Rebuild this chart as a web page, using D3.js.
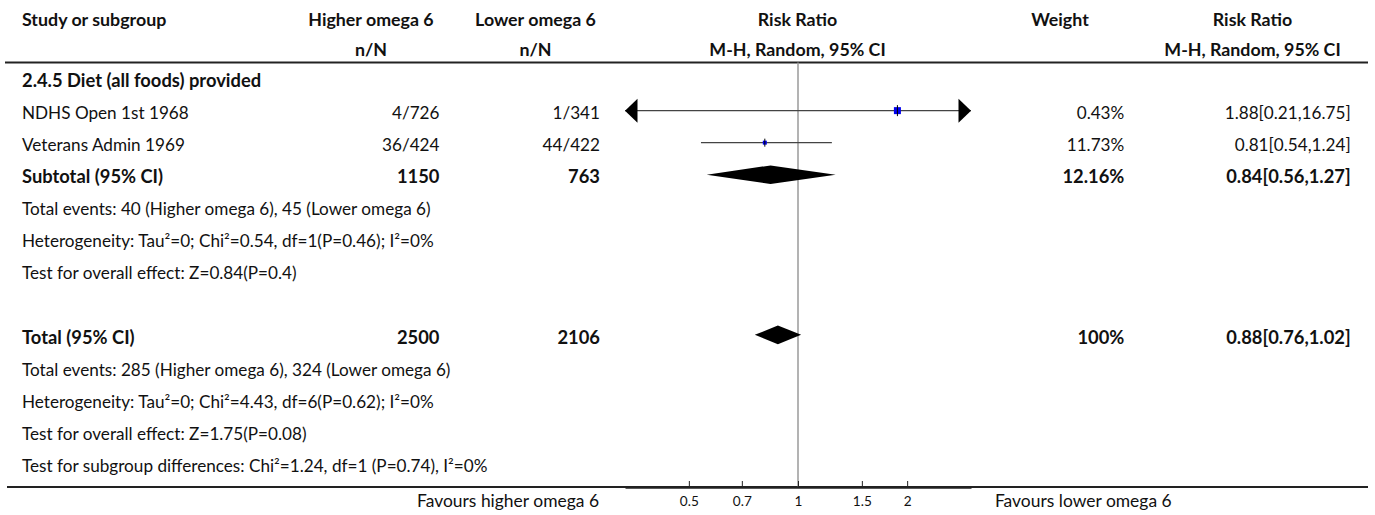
<!DOCTYPE html>
<html><head><meta charset="utf-8">
<script src="https://cdn.jsdelivr.net/npm/d3@7"></script>
<style>html,body{margin:0;padding:0;background:#fff}svg{display:block}</style>
</head><body>
<script>
// ---------------- data ----------------
const headerTop = ["Study or subgroup", "Higher omega 6", "Lower omega 6", "Risk Ratio", "Weight", "Risk Ratio"];
const headerSub = ["", "n/N", "n/N", "M-H, Random, 95% CI", "", "M-H, Random, 95% CI"];

const rowLabels = [
  "2.4.5 Diet (all foods) provided",
  "NDHS Open 1st 1968",
  "Veterans Admin 1969",
  "Subtotal (95% CI)",
  "Total events: 40 (Higher omega 6), 45 (Lower omega 6)",
  "Heterogeneity: Tau\u00b2=0; Chi\u00b2=0.54, df=1(P=0.46); I\u00b2=0%",
  "Test for overall effect: Z=0.84(P=0.4)",
  "",
  "Total (95% CI)",
  "Total events: 285 (Higher omega 6), 324 (Lower omega 6)",
  "Heterogeneity: Tau\u00b2=0; Chi\u00b2=4.43, df=6(P=0.62); I\u00b2=0%",
  "Test for overall effect: Z=1.75(P=0.08)",
  "Test for subgroup differences: Chi\u00b2=1.24, df=1 (P=0.74), I\u00b2=0%"
];
const rowKinds = ["group", "study", "study", "subtotal", "note", "note", "note", "blank", "total", "note", "note", "note", "note"];
const higherCol = ["", "4/726", "36/424", "1150", "", "", "", "", "2500", "", "", "", ""];
const lowerCol  = ["", "1/341", "44/422", "763", "", "", "", "", "2106", "", "", "", ""];
const weightCol = ["", "0.43%", "11.73%", "12.16%", "", "", "", "", "100%", "", "", "", ""];
const rrCol     = ["", "1.88[0.21,16.75]", "0.81[0.54,1.24]", "0.84[0.56,1.27]", "", "", "", "", "0.88[0.76,1.02]", "", "", "", ""];
const rrEst  = [null, 1.88, 0.81, 0.84, null, null, null, null, 0.88, null, null, null, null];
const rrLow  = [null, 0.21, 0.54, 0.56, null, null, null, null, 0.76, null, null, null, null];
const rrHigh = [null, 16.75, 1.24, 1.27, null, null, null, null, 1.02, null, null, null, null];

const axisTicks = [0.5, 0.7, 1, 1.5, 2];
const axisDomain = [1 / 3, 3];
const favoursLeft = "Favours higher omega 6";
const favoursRight = "Favours lower omega 6";

// ---------------- style ----------------
const W = 1375, H = 515;
const FONT = "Lato, 'Noto Sans', sans-serif";
const TEXT = "#111";
const boxSize = {1: 7, 2: 4};

const svg = d3.select("body").append("svg").attr("width", W).attr("height", H);

// font size fitted so that reference strings reach their measured widths
function fit(weight, pairs) {
  let got = 0, want = 0;
  pairs.forEach(([s, target]) => {
    const t = svg.append("text").attr("font-family", FONT).attr("font-weight", weight)
      .attr("font-size", 100).text(s);
    got += t.node().getComputedTextLength();
    want += target;
    t.remove();
  });
  return 100 * want / got;
}
const fsBody = fit(400, [[rowLabels[1], 158], [rowLabels[2], 162.7], [rowLabels[6], 275],
  [rowLabels[4], 416], [rowLabels[5], 414]]);
const fsBold = fit(700, [[rowLabels[0], 241.7], [rowLabels[3], 142.3], [rrCol[3], 121.3],
  [weightCol[3], 59.3], [rowLabels[8], 115]]);
const fsHead = fit(700, [["Study or subgroup", 151.7], ["Higher omega 6", 117], ["Lower omega 6", 122.7],
  ["M-H, Random, 95% CI", 175], ["Weight", 56.3], ["Risk Ratio", 81.3]]);
const fsFav = fit(400, [[favoursLeft, 182]]);
const fsTick = fit(400, [["1.5", 19]]);

// scales
const x = d3.scaleLog().domain(axisDomain).range([625, 971]);
const yBase = d3.scaleLinear().domain([0, 12]).range([87.3, 87.3 + 32.03 * 12]);
const yMid = k => yBase(k) - 8.7;
const axisY = 487;

function txt(g, s, xx, yy, anchor, weight, size) {
  return g.append("text").attr("x", xx).attr("y", yy).attr("text-anchor", anchor)
    .attr("font-family", FONT).attr("font-weight", weight).attr("font-size", size)
    .attr("fill", TEXT).text(s);
}

// header
const hg = svg.append("g");
const headX = [22, 371, 535.5, 797.5, 1060, 1252.5];
const headAnchor = ["start", "middle", "middle", "middle", "middle", "middle"];
headerTop.forEach((s, i) => txt(hg, s, headX[i], 26, headAnchor[i], 700, fsHead));
headerSub.forEach((s, i) => { if (s) txt(hg, s, headX[i], 56, headAnchor[i], 700, fsHead); });

// lines
svg.append("line").attr("x1", 5).attr("x2", 1368).attr("y1", 62.5).attr("y2", 62.5)
  .attr("stroke", "#222").attr("stroke-width", 1.8);
svg.append("line").attr("x1", 7).attr("x2", 1368).attr("y1", axisY).attr("y2", axisY)
  .attr("stroke", "#222").attr("stroke-width", 1.8);
svg.append("line").attr("x1", x(1)).attr("x2", x(1)).attr("y1", 62.5).attr("y2", axisY)
  .attr("stroke", "#9a9a9a").attr("stroke-width", 1.5);

// rows text
const rg = svg.append("g");
rowLabels.forEach((s, k) => {
  if (!s) return;
  const bold = rowKinds[k] === "group" || rowKinds[k] === "subtotal" || rowKinds[k] === "total";
  const w = bold ? 700 : 400, fs = bold ? fsBold : fsBody;
  const yy = yBase(k);
  txt(rg, s, 22, yy, "start", w, fs);
  if (higherCol[k]) txt(rg, higherCol[k], 439.5, yy, "end", w, fs);
  if (lowerCol[k]) txt(rg, lowerCol[k], 600, yy, "end", w, fs);
  if (weightCol[k]) txt(rg, weightCol[k], 1124.3, yy, "end", w, fs);
  if (rrCol[k]) txt(rg, rrCol[k], 1350.7, yy, "end", w, fs);
});

// marks
const mg = svg.append("g");
const [r0, r1] = x.range();
rowKinds.forEach((kind, k) => {
  if (rrEst[k] == null) return;
  const c = yMid(k);
  if (kind === "study") {
    const lo = Math.max(rrLow[k], axisDomain[0]), hi = Math.min(rrHigh[k], axisDomain[1]);
    mg.append("line").attr("x1", x(lo)).attr("x2", x(hi)).attr("y1", c).attr("y2", c)
      .attr("stroke", "#444").attr("stroke-width", 1.3);
    if (rrLow[k] < axisDomain[0]) {
      mg.append("path").attr("d", `M${r0},${c}L${r0 + 12.5},${c - 12}L${r0 + 12.5},${c + 12}Z`).attr("fill", "#000");
    }
    if (rrHigh[k] > axisDomain[1]) {
      mg.append("path").attr("d", `M${r1},${c}L${r1 - 12.5},${c - 12}L${r1 - 12.5},${c + 12}Z`).attr("fill", "#000");
    }
    const s = boxSize[k];
    const cx = x(rrEst[k]);
    mg.append("rect").attr("x", cx - s / 2).attr("y", c - s / 2).attr("width", s).attr("height", s)
      .attr("fill", "#0000ee");
    mg.append("line").attr("x1", cx).attr("x2", cx).attr("y1", c - s / 2 - 2).attr("y2", c + s / 2 + 2)
      .attr("stroke", "#000").attr("stroke-width", 1);
  } else {
    const h = 9.3;
    mg.append("path")
      .attr("d", `M${x(rrLow[k])},${c}L${x(rrEst[k])},${c - h}L${x(rrHigh[k])},${c}L${x(rrEst[k])},${c + h}Z`)
      .attr("fill", "#000");
  }
});

// axis
const ax = svg.append("g").attr("transform", `translate(0,${axisY})`)
  .call(d3.axisBottom(x).tickValues(axisTicks).tickFormat(d => String(d))
    .tickSizeInner(-6).tickSizeOuter(0).tickPadding(9));
ax.select(".domain").attr("stroke", "#222").attr("stroke-width", 2.4);
ax.selectAll(".tick line").attr("stroke", "#222").attr("stroke-width", 1);
ax.selectAll(".tick text").attr("font-family", FONT).attr("font-size", fsTick).attr("fill", TEXT);

txt(svg, favoursLeft, 599, 507, "end", 400, fsFav);
txt(svg, favoursRight, 995, 507, "start", 400, fsFav);
</script>
</body></html>
